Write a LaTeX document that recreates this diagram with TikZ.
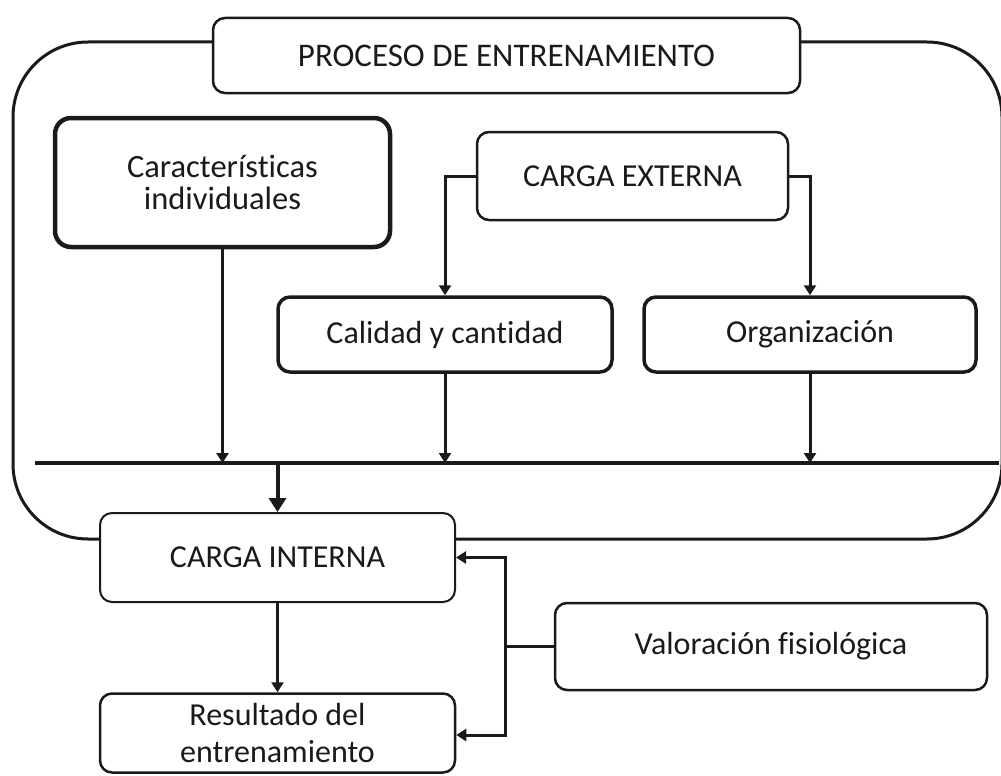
\documentclass[tikz,border=0pt]{standalone}
\usepackage{fontspec}
\setmainfont[Ligatures=NoCommon]{Carlito}
\usetikzlibrary{arrows.meta}
\definecolor{ink}{HTML}{1A1A1A}
\tikzset{
  box/.style={draw=ink, fill=white, rounded corners=12pt, align=center, inner sep=0pt,
    text=ink, font=\fontsize{32}{34}\selectfont},
  arr/.style={draw=ink, line width=3pt, -{Triangle[length=10pt,width=12pt]}},
  bigarr/.style={draw=ink, line width=4pt, -{Triangle[length=14pt,width=17pt]}},
  plain/.style={draw=ink, line width=3pt},
}
\begin{document}
\begin{tikzpicture}[x=1pt,y=-1pt]
\useasboundingbox (0,0) rectangle (1001,776);
% outer frame
\draw[draw=ink, line width=3pt, rounded corners=75pt] (13,42) rectangle (1002,539);
% title
\node[box, line width=2.5pt, minimum width=587pt, minimum height=75pt, font=\fontsize{33}{34}\selectfont] (title) at (506.5,55.5) {PROCESO DE ENTRENAMIENTO};
% upper boxes
\node[box, line width=4.5pt, rounded corners=16pt, minimum width=335pt, minimum height=129pt, font=\fontsize{32.5}{32.5}\selectfont] (car) at (222.5,182.5) {Características\\individuales};
\node[box, line width=2.5pt, minimum width=311pt, minimum height=88pt] (ext) at (632.5,176) {CARGA EXTERNA};
\node[box, line width=3.5pt, minimum width=334pt, minimum height=75pt] (cal) at (445,334.5) {Calidad y cantidad};
\node[box, line width=3.5pt, minimum width=332pt, minimum height=75pt] (org) at (810,334.5) {Organización};
% bus line
\coordinate (hl) at (35,463);
\coordinate (hr) at (999,463);
\draw[draw=ink, line width=4pt] (hl) -- (hr);
% lower boxes
\node[box, line width=2pt, minimum width=355pt, minimum height=89pt] (cin) at (277.5,557.5) {CARGA INTERNA};
\node[box, line width=2.5pt, minimum width=355pt, minimum height=79pt, font=\fontsize{32}{37}\selectfont] (res) at (277.5,733) {Resultado del\\entrenamiento};
\node[box, line width=2.5pt, minimum width=432pt, minimum height=87pt] (val) at (771,646.5) {Valoración fisiológica};
% connectors
\draw[arr] (ext.west) -| (cal.north);
\draw[arr] (ext.east) -| (org.north);
\draw[arr] (car.south) -- (car.south |- hl);
\draw[arr] (cal.south) -- (cal.south |- hl);
\draw[arr] (org.south) -- (org.south |- hl);
\draw[bigarr] (cin.north |- hl) -- (cin.north);
\draw[arr] (cin.south) -- (res.north);
\coordinate (j) at (505,646.5);
\coordinate (jr) at (505,735);
\draw[plain] (val.west) -- (j);
\draw[arr] (j) |- (cin.east);
\draw[arr] (j) -- (jr) -- (jr -| res.east);
\end{tikzpicture}
\end{document}
